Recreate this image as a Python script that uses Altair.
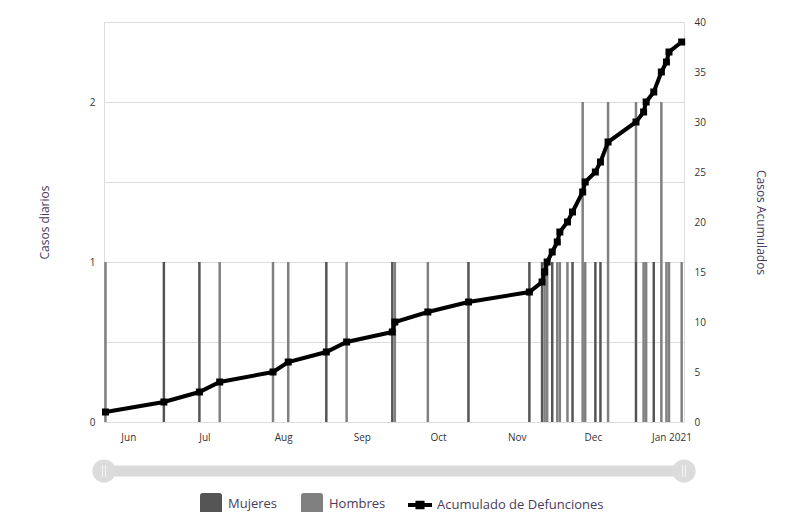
import altair as alt
import pandas as pd

# ---- data ----
fechas = ["2020-05-23", "2020-06-15", "2020-06-29", "2020-07-07", "2020-07-28",
          "2020-08-03", "2020-08-18", "2020-08-26", "2020-09-13", "2020-09-14",
          "2020-09-27", "2020-10-13", "2020-11-06", "2020-11-11", "2020-11-12",
          "2020-11-13", "2020-11-15", "2020-11-17", "2020-11-18", "2020-11-21",
          "2020-11-23", "2020-11-27", "2020-11-28", "2020-12-02", "2020-12-04",
          "2020-12-07", "2020-12-18", "2020-12-21", "2020-12-22", "2020-12-25",
          "2020-12-28", "2020-12-30", "2020-12-31", "2021-01-05"]
mujeres = [0, 1, 1, 0, 0, 0, 1, 0, 1, 0, 0, 1, 1, 1, 0, 0, 1, 0, 0, 0,
           1, 0, 0, 1, 1, 0, 1, 0, 0, 1, 0, 0, 0, 0]
hombres = [1, 0, 0, 1, 1, 1, 0, 1, 0, 1, 1, 0, 0, 0, 1, 1, 0, 1, 1, 1,
           0, 2, 1, 0, 0, 2, 1, 1, 1, 0, 2, 1, 1, 1]
month_ticks = ["2020-06-01", "2020-07-01", "2020-08-01", "2020-09-01",
               "2020-10-01", "2020-11-01", "2020-12-01", "2021-01-01"]
x_domain = ["2020-05-22T10:00:00", "2021-01-05T22:00:00"]
left_grid = [0, 0.5, 1, 1.5, 2, 2.5]
right_ticks = [0, 5, 10, 15, 20, 25, 30, 35, 40]

def ms(s):
    return int(pd.Timestamp(s, tz="UTC").value // 10**6)

rows = []
for f, m, h in zip(fechas, mujeres, hombres):
    if m:
        rows.append({"fecha": f, "sexo": "Mujeres", "n": m})
    if h:
        rows.append({"fecha": f, "sexo": "Hombres", "n": h})
bars_df = pd.DataFrame(rows)

tot = [m + h for m, h in zip(mujeres, hombres)]
acum = pd.Series(tot).cumsum().tolist()
line_df = pd.DataFrame({"fecha": fechas, "acum": acum,
                        "serie": ["Acumulado de Defunciones"] * len(fechas)})

FONT = "Open Sans"
LABEL = "#333333"
TITLE = "#4a3c5c"

x_enc = alt.X("fecha:T", title=None,
              scale=alt.Scale(type="utc", domain=[ms(d) for d in x_domain], padding=0),
              axis=alt.Axis(values=[ms(d) for d in month_ticks], grid=False,
                            domain=False, ticks=False, labelPadding=10,
                            labelFontSize=10, labelColor=LABEL, labelFont=FONT,
                            labelExpr="utcFormat(datum.value, '%m') == '01' ? utcFormat(datum.value, '%b %Y') : utcFormat(datum.value, '%b')"))

rsq = "M-1,-0.75 Q-1,-1 -0.75,-1 L0.75,-1 Q1,-1 1,-0.75 L1,0.75 Q1,1 0.75,1 L-0.75,1 Q-1,1 -1,0.75 Z"
line_sym = "M-1,-0.16 L-0.38,-0.16 L-0.38,-0.36 L0.38,-0.36 L0.38,-0.16 L1,-0.16 L1,0.16 L0.38,0.16 L0.38,0.36 L-0.38,0.36 L-0.38,0.16 L-1,0.16 Z"

bars = alt.Chart(bars_df).mark_bar(size=2.5).encode(
    x=x_enc,
    y=alt.Y("n:Q", stack="zero", title="Casos diarios",
            scale=alt.Scale(domain=[0, 2.5], nice=False),
            axis=alt.Axis(values=left_grid, orient="left", domain=False, ticks=False,
                          labelExpr="datum.value % 1 == 0 ? format(datum.value, 'd') : ''",
                          gridColor="#dcdcdc", labelPadding=9, labelFontSize=10,
                          labelColor=LABEL, labelFont=FONT, titleFont=FONT,
                          titleFontSize=12, titleFontWeight="normal",
                          titleColor=TITLE, titlePadding=38)),
    color=alt.Color("sexo:N", scale=alt.Scale(domain=["Mujeres", "Hombres"],
                                              range=["#555555", "#808080"]),
                    legend=alt.Legend(title=None, orient="none", legendX=96, legendY=471,
                                      direction="horizontal", symbolType=rsq,
                                      symbolSize=484, symbolStrokeWidth=0,
                                      labelFontSize=13, labelFont=FONT, labelColor=TITLE,
                                      labelOffset=6, columnPadding=23, padding=0)),
    order=alt.Order("sexo:N", sort="descending"),
)

y_right = alt.Y("acum:Q", title="Casos Acumulados",
                scale=alt.Scale(domain=[0, 40], nice=False),
                axis=alt.Axis(values=right_ticks, orient="right", grid=False, domain=False,
                              ticks=False, labelPadding=10, labelFontSize=10,
                              labelColor=LABEL, labelFont=FONT, titleFont=FONT,
                              titleFontSize=12, titleFontWeight="normal",
                              titleColor=TITLE, titlePadding=48))

line = alt.Chart(line_df).mark_line(color="black", strokeWidth=4).encode(x=x_enc, y=y_right)
squares = alt.Chart(line_df).mark_square(size=49, opacity=1).encode(
    x=x_enc, y=y_right,
    color=alt.Color("serie:N", scale=alt.Scale(range=["#000000"]),
                    legend=alt.Legend(title=None, orient="none", legendX=304, legendY=471,
                                      symbolType=line_sym, symbolSize=576,
                                      symbolStrokeWidth=0, labelFontSize=13,
                                      labelFont=FONT, labelColor=TITLE, labelOffset=5,
                                      labelLimit=400, padding=0)),
)

dummy = pd.DataFrame({"a": [0]})
track = alt.Chart(dummy).mark_rule(color="#dadada", strokeWidth=11).encode(
    x=alt.value(0), x2=alt.value(580), y=alt.value(449))
h1 = alt.Chart(dummy).mark_circle(color="#dcdcdc", opacity=1, size=540).encode(
    x=alt.value(0), y=alt.value(449))
h2 = alt.Chart(dummy).mark_circle(color="#dcdcdc", opacity=1, size=540).encode(
    x=alt.value(580), y=alt.value(449))
g = []
for xv in [-1.5, 1.5, 578.5, 581.5]:
    g.append(alt.Chart(dummy).mark_rule(color="#f4f4f4", strokeWidth=1).encode(
        x=alt.value(xv), y=alt.value(443), y2=alt.value(455)))

right = alt.layer(line, squares, track, h1, h2, *g)

chart = alt.layer(bars, right).resolve_scale(y="independent", color="independent").properties(
    width=580, height=400,
    padding={"left": 96, "top": 14, "right": 94, "bottom": 90},
    autosize=alt.AutoSizeParams(type="none"),
).configure_view(stroke=None).configure(background="white")

chart.save("out.html", embed_options={"renderer": "svg", "actions": False})
